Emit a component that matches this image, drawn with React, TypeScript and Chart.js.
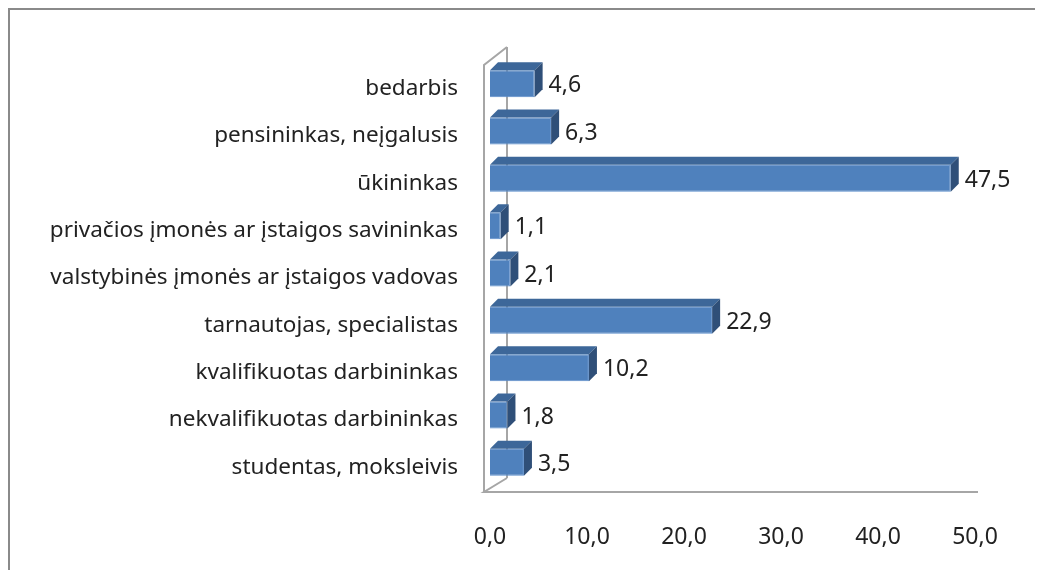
import React, { useEffect, useRef } from "react";
import { Chart, registerables } from "chart.js";

Chart.register(...registerables);

const categories = [
  "bedarbis",
  "pensininkas, neįgalusis",
  "ūkininkas",
  "privačios įmonės ar įstaigos savininkas",
  "valstybinės įmonės ar įstaigos vadovas",
  "tarnautojas, specialistas",
  "kvalifikuotas darbininkas",
  "nekvalifikuotas darbininkas",
  "studentas, moksleivis",
];
const values = [4.6, 6.3, 47.5, 1.1, 2.1, 22.9, 10.2, 1.8, 3.5];
const xTicks = [0, 10, 20, 30, 40, 50];

const FONT = "'Noto Sans', 'DejaVu Sans', sans-serif";
const D = 8; // 3D depth

const fmt = (v: number) => v.toFixed(1).replace(".", ",");

const frame3d = {
  id: "frame3d",
  beforeDatasetsDraw(chart: any) {
    const { ctx, chartArea: a } = chart;
    ctx.save();
    ctx.strokeStyle = "#8a8a8a";
    ctx.lineWidth = 2;
    ctx.beginPath();
    ctx.moveTo(1, chart.height);
    ctx.lineTo(1, 1);
    ctx.lineTo(chart.width, 1);
    ctx.stroke();
    ctx.strokeStyle = "#a6a6a6";
    ctx.lineWidth = 2;
    const fx = a.left - 6;
    const bx = fx + 23;
    const top = a.top + 5;
    const bottom = a.bottom + 6;
    ctx.beginPath();
    ctx.moveTo(fx, bottom);
    ctx.lineTo(fx, top);
    ctx.lineTo(bx, top - 18);
    ctx.stroke();
    ctx.beginPath();
    ctx.moveTo(bx, top - 18);
    ctx.lineTo(bx, bottom - 14);
    ctx.stroke();
    ctx.beginPath();
    ctx.moveTo(bx, bottom - 14);
    ctx.lineTo(fx, bottom);
    ctx.lineTo(a.right + 3, bottom);
    ctx.stroke();
    ctx.restore();
  },
  afterDatasetsDraw(chart: any) {
    const { ctx } = chart;
    const meta = chart.getDatasetMeta(0);
    ctx.save();
    meta.data.forEach((bar: any, i: number) => {
      const x0 = bar.base;
      const x1 = bar.x;
      const t = bar.y - bar.height / 2;
      const b = bar.y + bar.height / 2;
      ctx.fillStyle = "#3d6799";
      ctx.beginPath();
      ctx.moveTo(x0, t);
      ctx.lineTo(x0 + D, t - D);
      ctx.lineTo(x1 + D, t - D);
      ctx.lineTo(x1, t);
      ctx.closePath();
      ctx.fill();
      ctx.fillStyle = "#2f4f78";
      ctx.beginPath();
      ctx.moveTo(x1, t);
      ctx.lineTo(x1 + D, t - D);
      ctx.lineTo(x1 + D, b - D);
      ctx.lineTo(x1, b);
      ctx.closePath();
      ctx.fill();
      ctx.fillStyle = "#222";
      ctx.font = `23px ${FONT}`;
      ctx.textBaseline = "middle";
      ctx.textAlign = "left";
      ctx.fillText(fmt(values[i]), x1 + D + 6, bar.y + 2);
    });
    ctx.restore();
  },
};

export default function App() {
  const ref = useRef<HTMLCanvasElement>(null);
  useEffect(() => {
    if (!ref.current) return;
    const chart = new Chart(ref.current, {
      type: "bar",
      data: {
        labels: categories,
        datasets: [
          {
            data: values,
            backgroundColor: "#4f81bd",
            borderColor: "#5a8ccb",
            borderWidth: 1,
            barPercentage: 0.57,
            categoryPercentage: 1,
          },
        ],
      },
      options: {
        indexAxis: "y",
        animation: false,
        responsive: true,
        maintainAspectRatio: false,
        layout: { padding: { top: 52, right: 68, left: 0, bottom: 0 } },
        plugins: { legend: { display: false }, tooltip: { enabled: false } },
        scales: {
          x: {
            min: 0,
            max: 50,
            afterFit: (s: any) => {
              s.height = 84;
            },
            afterBuildTicks: (s: any) => {
              s.ticks = xTicks.map((v) => ({ value: v }));
            },
            grid: { display: false, drawTicks: false },
            border: { display: false },
            ticks: {
              padding: 38,
              color: "#222",
              font: { family: FONT, size: 23 },
              callback: (v: any) => fmt(Number(v)),
            },
          },
          y: {
            afterFit: (s: any) => {
              s.width = 482;
            },
            grid: { display: false, drawTicks: false },
            border: { display: false },
            ticks: {
              padding: 32,
              labelOffset: 5,
              color: "#222",
              font: { family: FONT, size: 22.5 },
            },
          },
        },
      },
      plugins: [frame3d],
    });
    return () => chart.destroy();
  }, []);
  return (
    <div style={{ position: "relative", width: 1035, height: 562 }}>
      <canvas ref={ref} />
    </div>
  );
}
